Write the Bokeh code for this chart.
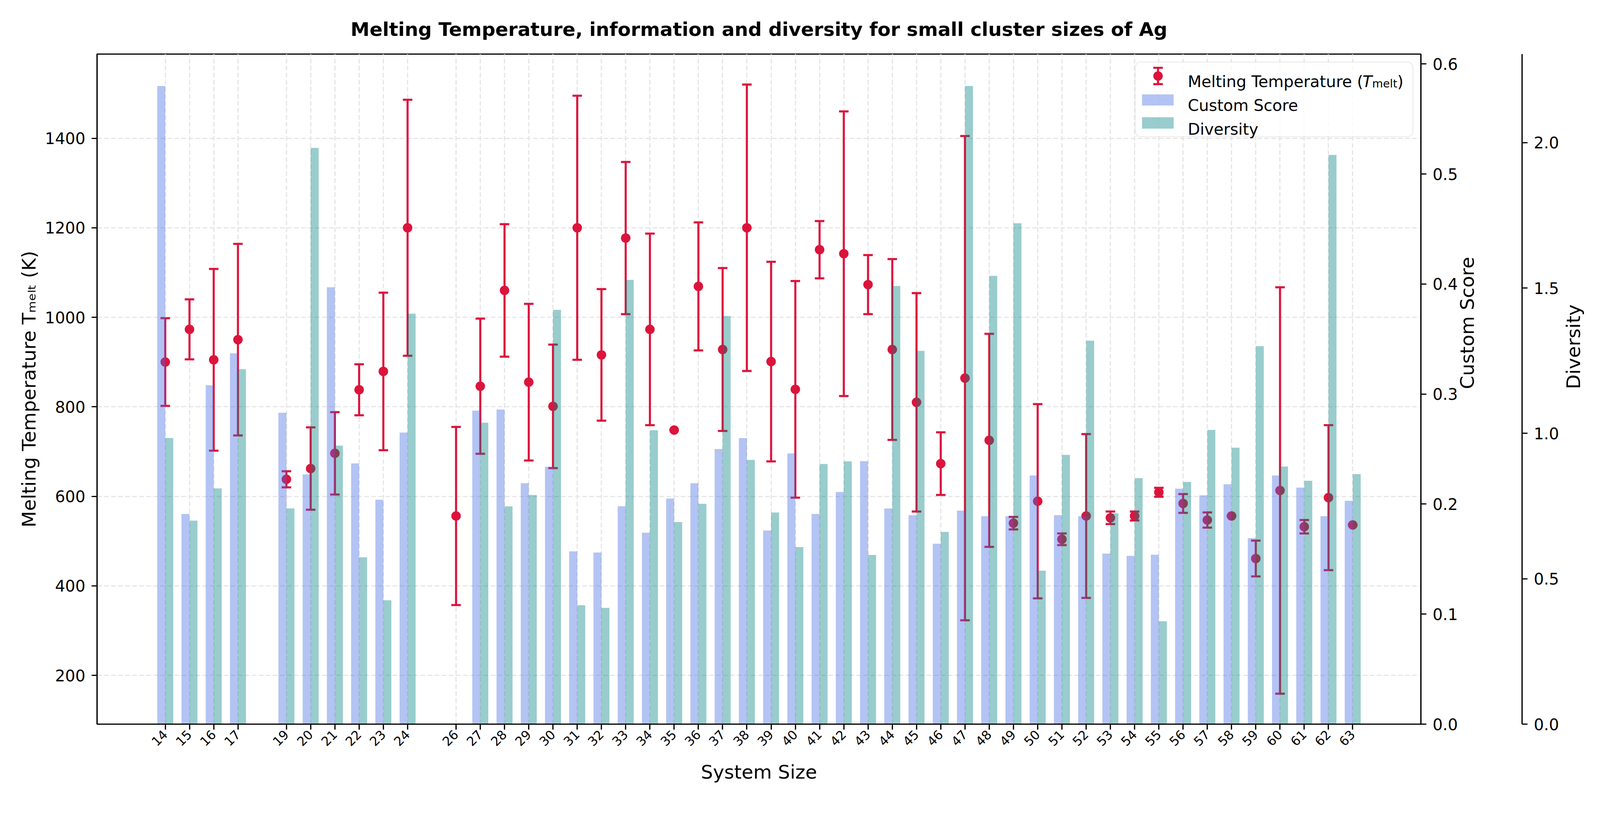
import math
import numpy as np
from bokeh.plotting import figure
from bokeh.models import (ColumnDataSource, Range1d, LinearAxis, FixedTicker,
                          PrintfTickFormatter, Label, BoxAnnotation)
from bokeh.transform import dodge
from bokeh.embed import file_html
from bokeh.resources import INLINE

NaN = float("nan")

# ---------------- data ----------------
sizes = [14, 15, 16, 17, 19, 20, 21, 22, 23, 24,
         26, 27, 28, 29, 30, 31, 32, 33, 34, 35,
         36, 37, 38, 39, 40, 41, 42, 43, 44, 45,
         46, 47, 48, 49, 50, 51, 52, 53, 54, 55,
         56, 57, 58, 59, 60, 61, 62, 63]
t_melt = [900, 973, 905, 950, 638, 662, 696, 838, 879, 1200,
          556, 846, 1060, 855, 801, 1200, 916, 1177, 973, 748,
          1069, 928, 1200, 901, 839, 1151, 1142, 1073, 928, 810,
          673, 864, 725, 540, 589, 504, 556, 552, 556, 609,
          584, 547, 556, 461, 613, 532, 597, 536]
t_err = [98, 67, 203, 214, 18, 92, 92, 57, 176, 286,
         199, 151, 148, 175, 138, 295, 147, 170, 214, 0,
         143, 182, 320, 223, 242, 64, 318, 66, 202, 244,
         70, 541, 238, 14, 217, 13, 183, 14, 10, 10,
         21, 17, 0, 40, 454, 15, 162, 0]
custom_score = [0.580, 0.191, 0.308, 0.337, 0.283, 0.227, 0.397, 0.237, 0.204, 0.265,
                NaN, 0.285, 0.286, 0.219, 0.234, 0.157, 0.156, 0.198, 0.174, 0.205,
                0.219, 0.250, 0.260, 0.176, 0.246, 0.191, 0.211, 0.239, 0.196, 0.190,
                0.164, 0.194, 0.189, 0.189, 0.226, 0.190, 0.189, 0.155, 0.153, 0.154,
                0.214, 0.208, 0.218, 0.169, 0.226, 0.215, 0.189, 0.203]
diversity = [0.984, 0.700, 0.811, 1.221, 0.742, 1.982, 0.958, 0.574, 0.426, 1.412,
             NaN, 1.037, 0.749, 0.788, 1.425, 0.409, 0.400, 1.528, 1.011, 0.695,
             0.758, 1.404, 0.909, 0.728, 0.609, 0.895, 0.904, 0.582, 1.507, 1.284,
             0.661, 2.195, 1.542, 1.723, 0.528, 0.926, 1.319, 0.725, 0.846, 0.354,
             0.833, 1.012, 0.951, 1.300, 0.886, 0.837, 1.958, 0.860]
temp_ticks = [200, 400, 600, 800, 1000, 1200, 1400]
score_ticks = [0.0, 0.1, 0.2, 0.3, 0.4, 0.5, 0.6]
div_ticks = [0.0, 0.5, 1.0, 1.5, 2.0]

TITLE = "Melting Temperature, information and diversity for small cluster sizes of Ag"
Y_LABEL = "Melting Temperature T\u2098\u2091\u2097\u209c (K)"

# ---------------- style ----------------
S = 4096 / 4200.0          # page scale so that the figure fits the window


def px(v):
    return v * S


def ipx(v):
    return int(round(v * S))


def fs(v):
    return "%.2fpx" % (v * S)


FONT = "DejaVu Sans"
CRIMSON = "#dc143c"
BLUE = "royalblue"
TEAL = "teal"
BAR_W = 0.33

FL, FT = ipx(254), ipx(142)
FW, FH = ipx(3475), ipx(1760)
LW = px(3.3)

lo = [t - e for t, e in zip(t_melt, t_err)]
hi = [t + e for t, e in zip(t_melt, t_err)]

# ranges like matplotlib autoscale (5% margins)
xa, xb = min(sizes) - BAR_W, max(sizes) + BAR_W
xm = 0.05 * (xb - xa)
ta, tb = min(lo), max(hi)
tm = 0.05 * (tb - ta)
cs_top = np.nanmax(custom_score) * 1.05
dv_top = np.nanmax(diversity) * 1.05

src = ColumnDataSource(dict(size=sizes, t=t_melt, lo=lo, hi=hi,
                            cs=custom_score, dv=diversity))

p = figure(frame_width=FW, frame_height=FH, output_backend="svg", toolbar_location=None,
           x_range=Range1d(xa - xm, xb + xm), y_range=Range1d(ta - tm, tb + tm),
           min_border_left=FL, min_border_top=FT, min_border_right=10,
           min_border_bottom=10)
p.background_fill_color = "white"
p.border_fill_color = "white"
p.outline_line_color = "black"
p.outline_line_width = LW

# helper ranges in (reference) frame pixels, used for the legend box
p.extra_y_ranges = {"cs": Range1d(0, cs_top), "dv": Range1d(0, dv_top),
                    "py": Range1d(0, 1760)}
p.extra_x_ranges = {"px": Range1d(0, 3475)}

# title
p.title.text = TITLE
p.title.text_font = FONT
p.title.text_font_size = fs(50)
p.title.text_font_style = "bold"
p.title.text_color = "black"
p.title.align = "center"
p.title.vertical_align = "top"
p.title.standoff = 68


def style_axis(ax, size=41.67):
    ax.axis_line_width = LW
    ax.axis_line_color = "black"
    ax.major_tick_line_width = LW
    ax.major_tick_out = ipx(14)
    ax.major_tick_in = 0
    ax.minor_tick_line_color = None
    ax.major_label_text_font = FONT
    ax.major_label_text_font_size = fs(size)
    ax.major_label_text_color = "black"
    ax.major_label_standoff = ipx(16)
    ax.axis_label_text_font = FONT
    ax.axis_label_text_font_size = fs(50)
    ax.axis_label_text_font_style = "normal"
    ax.axis_label_text_color = "black"


# x axis
xax = p.xaxis[0]
style_axis(xax, 33.3)
xax.ticker = FixedTicker(ticks=sizes)
xax.major_label_orientation = math.pi / 4
xax.major_label_standoff = 7
xax.axis_label = "System Size"
xax.axis_label_standoff = 25

# left axis
yax = p.yaxis[0]
style_axis(yax)
yax.ticker = FixedTicker(ticks=temp_ticks)
yax.axis_label = Y_LABEL
yax.axis_label_standoff = 10

# grids
for g, tk in ((p.xgrid, sizes), (p.ygrid, temp_ticks)):
    g.ticker = FixedTicker(ticks=tk)
    g.grid_line_color = "#e6e6e6"
    g.grid_line_width = LW
    g.grid_line_dash = "12 6"

# right axes
cs_ax = LinearAxis(y_range_name="cs", ticker=FixedTicker(ticks=score_ticks),
                   formatter=PrintfTickFormatter(format="%.1f"),
                   axis_label="Custom Score")
style_axis(cs_ax)
cs_ax.axis_label_standoff = ipx(22)
try:
    cs_ax.axis_label_orientation = math.pi / 2
except Exception:
    pass
p.add_layout(cs_ax, "right")

spacer = LinearAxis(y_range_name="cs", ticker=FixedTicker(ticks=[]),
                    axis_label=" ")
spacer.axis_line_color = None
spacer.major_tick_line_color = None
spacer.minor_tick_line_color = None
spacer.major_tick_out = 0
spacer.major_label_text_font_size = "1px"
spacer.axis_label_text_font_size = "10px"
spacer.axis_label_standoff = 67
p.add_layout(spacer, "right")

dv_ax = LinearAxis(y_range_name="dv", ticker=FixedTicker(ticks=div_ticks),
                   formatter=PrintfTickFormatter(format="%.1f"),
                   axis_label="Diversity")
style_axis(dv_ax)
dv_ax.axis_label_standoff = 34
try:
    dv_ax.axis_label_orientation = math.pi / 2
except Exception:
    pass
p.add_layout(dv_ax, "right")

# ---------------- data marks ----------------
EW = px(5.5)
MS = px(25)
p.segment(x0="size", y0="lo", x1="size", y1="hi", source=src,
          line_color=CRIMSON, line_width=EW)
p.scatter(x="size", y="lo", source=src, marker="dash", size=MS,
          line_color=CRIMSON, line_width=EW)
p.scatter(x="size", y="hi", source=src, marker="dash", size=MS,
          line_color=CRIMSON, line_width=EW)
p.scatter(x="size", y="t", source=src, marker="circle", size=MS,
          fill_color=CRIMSON, line_color=None)

p.vbar(x=dodge("size", -BAR_W / 2, range=p.x_range), top="cs", bottom=0,
       width=BAR_W, source=src, y_range_name="cs",
       fill_color=BLUE, fill_alpha=0.4, line_color=None)
p.vbar(x=dodge("size", BAR_W / 2, range=p.x_range), top="dv", bottom=0,
       width=BAR_W, source=src, y_range_name="dv",
       fill_color=TEAL, fill_alpha=0.4, line_color=None)


def lab(x, y, text, size, style="normal"):
    p.add_layout(Label(x=x, y=y, x_range_name="px", y_range_name="py",
                       text=text, text_font=FONT, text_font_size=fs(size),
                       text_font_style=style, text_color="black",
                       text_baseline="alphabetic", text_align="left"))


# ---------------- legend ----------------
p.add_layout(BoxAnnotation(left=2725, right=3454, bottom=1543, top=1739,
                           x_range_name="px", y_range_name="py",
                           fill_color="white", fill_alpha=0.8,
                           line_color="#cccccc", line_width=LW,
                           border_radius=ipx(14), level="underlay"))
p.segment(x0=[2785], y0=[1681], x1=[2785], y1=[1724], x_range_name="px",
          y_range_name="py", line_color=CRIMSON, line_width=EW)
p.scatter(x=[2785, 2785], y=[1681, 1724], marker="dash", size=MS,
          x_range_name="px", y_range_name="py", line_color=CRIMSON, line_width=EW)
p.scatter(x=[2785], y=[1702.5], marker="circle", size=MS, x_range_name="px",
          y_range_name="py", fill_color=CRIMSON, line_color=None)
p.quad(left=[2743], right=[2826], bottom=[1625], top=[1654], x_range_name="px",
       y_range_name="py", fill_color=BLUE, fill_alpha=0.4, line_color=None)
p.quad(left=[2743], right=[2826], bottom=[1564], top=[1594], x_range_name="px",
       y_range_name="py", fill_color=TEAL, fill_alpha=0.4, line_color=None)

lx = 2863.0
lem = 41.67
lab(lx, 1688, "Melting Temperature (", lem)
lx += 11.247 * lem - 10
lab(lx, 1688, "T", lem, "italic")
lx += 0.611 * lem
lab(lx, 1682, "melt", 29.17)
lx += 2.259 * 29.17
lab(lx, 1688, ")", lem)
lab(2863, 1625.5, "Custom Score", lem)
lab(2863, 1563, "Diversity", lem)

open("out.html", "w").write(file_html(p, INLINE))
